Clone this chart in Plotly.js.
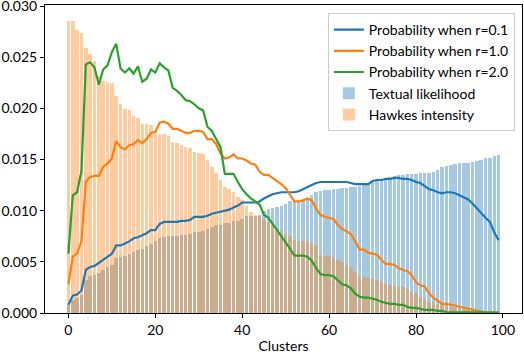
<!DOCTYPE html>
<html>
<head>
<meta charset="utf-8">
<script src="https://cdn.plot.ly/plotly-3.0.1.min.js"></script>
<style>html,body{margin:0;padding:0;background:#fff;}#chart{width:524px;height:354px;}</style>
</head>
<body>
<div id="chart"></div>
<script>
const clusters = Array.from({length: 100}, (_, i) => i);

const probR01 = [0.0008,0.0017,0.0018,0.0022,0.0042,0.0045,0.0046,0.0049,0.0052,0.0055,
0.0058,0.0066,0.0066,0.0068,0.0070,0.0073,0.0074,0.0076,0.0078,0.0081,
0.0081,0.0087,0.0089,0.0089,0.0089,0.0089,0.0090,0.0090,0.0091,0.0094,
0.0094,0.0094,0.0095,0.0097,0.0098,0.0099,0.0100,0.0101,0.0103,0.0105,
0.0108,0.0108,0.0108,0.0108,0.0109,0.0112,0.0114,0.0116,0.0117,0.0118,
0.0118,0.0118,0.0118,0.0119,0.0121,0.0123,0.0125,0.0127,0.0128,0.0128,
0.0128,0.0128,0.0128,0.0128,0.0128,0.0127,0.0126,0.0126,0.0126,0.0126,
0.0129,0.0130,0.0130,0.0131,0.0131,0.0132,0.0132,0.0131,0.0131,0.0130,
0.0128,0.0127,0.0124,0.0121,0.0120,0.0118,0.0117,0.0118,0.0118,0.0117,
0.0115,0.0113,0.0111,0.0107,0.0102,0.0097,0.0093,0.0089,0.0079,0.0071];

const probR10 = [0.0028,0.0055,0.0058,0.0070,0.0128,0.0133,0.0134,0.0134,0.0143,0.0146,
0.0151,0.0168,0.0162,0.0160,0.0164,0.0165,0.0169,0.0166,0.0170,0.0176,
0.0177,0.0186,0.0187,0.0185,0.0180,0.0180,0.0178,0.0176,0.0176,0.0178,
0.0178,0.0177,0.0170,0.0170,0.0165,0.0156,0.0151,0.0152,0.0155,0.0151,
0.0151,0.0149,0.0146,0.0145,0.0138,0.0135,0.0135,0.0132,0.0129,0.0126,
0.0122,0.0116,0.0109,0.0109,0.0110,0.0112,0.0110,0.0102,0.0096,0.0094,
0.0093,0.0092,0.0086,0.0082,0.0080,0.0077,0.0070,0.0062,0.0062,0.0059,
0.0058,0.0057,0.0052,0.0048,0.0048,0.0047,0.0044,0.0042,0.0041,0.0037,
0.0030,0.0027,0.0026,0.0019,0.0015,0.0012,0.0009,0.0009,0.0008,0.0007,
0.0006,0.0005,0.0004,0.0003,0.0002,0.00015,0.0001,0.0001,0.00005,0.00005];

const probR20 = [0.0058,0.0115,0.0118,0.0139,0.0243,0.0245,0.0240,0.0223,0.0238,0.0242,
0.0255,0.0263,0.0239,0.0235,0.0239,0.0234,0.0241,0.0226,0.0229,0.0238,
0.0235,0.0244,0.0240,0.0237,0.0220,0.0217,0.0213,0.0208,0.0207,0.0204,
0.0200,0.0198,0.0182,0.0178,0.0170,0.0162,0.0136,0.0136,0.0136,0.0128,
0.0121,0.0116,0.0112,0.0109,0.0106,0.0096,0.0093,0.0087,0.0081,0.0076,
0.0069,0.0063,0.0056,0.0056,0.0056,0.0055,0.0051,0.0044,0.0038,0.0037,
0.0037,0.0036,0.0032,0.0028,0.0027,0.0024,0.0019,0.0016,0.0015,0.0015,
0.0014,0.0013,0.0011,0.0010,0.0009,0.0009,0.0008,0.0008,0.0006,0.0005,
0.0005,0.0004,0.0003,0.0003,0.0003,0.0002,0.0002,0.0001,0.0001,0.0001,
0.0001,0.0001,0.00005,0.00005,0.00005,0.00005,0.00005,0.00005,0.00005,0.00005];

const textualLikelihood = [0.0008,0.0013,0.0015,0.0018,0.0032,0.0036,0.0037,0.0039,0.0042,0.0045,
0.0047,0.0054,0.0055,0.0056,0.0058,0.0060,0.0062,0.0063,0.0065,0.0067,
0.0070,0.0073,0.0074,0.0075,0.0075,0.0075,0.0076,0.0076,0.0077,0.0079,
0.0079,0.0080,0.0082,0.0084,0.0086,0.0086,0.0088,0.0088,0.0090,0.0090,
0.0092,0.0095,0.0095,0.0095,0.0096,0.0100,0.0102,0.0103,0.0104,0.0105,
0.0107,0.0109,0.0109,0.0109,0.0110,0.0110,0.0115,0.0118,0.0119,0.0120,
0.0120,0.0121,0.0121,0.0122,0.0122,0.0123,0.0123,0.0124,0.0125,0.0126,
0.0128,0.0129,0.0130,0.0131,0.0133,0.0134,0.0135,0.0135,0.0136,0.0136,
0.0136,0.0137,0.0137,0.0137,0.0138,0.0140,0.0143,0.0144,0.0145,0.0146,
0.0147,0.0147,0.0147,0.0148,0.0149,0.0150,0.0151,0.0151,0.0153,0.0154];

const hawkesIntensity = [0.0285,0.0285,0.0277,0.0274,0.0259,0.0253,0.0246,0.0232,0.0227,0.0226,
0.0225,0.0212,0.0204,0.0199,0.0198,0.0193,0.0191,0.0185,0.0185,0.0184,
0.0178,0.0175,0.0175,0.0173,0.0167,0.0166,0.0164,0.0162,0.0161,0.0157,
0.0156,0.0155,0.0150,0.0143,0.0137,0.0130,0.0123,0.0121,0.0118,0.0113,
0.0110,0.0105,0.0099,0.0096,0.0095,0.0091,0.0089,0.0086,0.0082,0.0080,
0.0077,0.0075,0.0071,0.0070,0.0070,0.0070,0.0068,0.0066,0.0057,0.0056,
0.0056,0.0055,0.0052,0.0050,0.0047,0.0045,0.0040,0.0036,0.0035,0.0034,
0.0034,0.0032,0.0031,0.0028,0.0027,0.0027,0.0025,0.0025,0.0023,0.0021,
0.0020,0.0016,0.0014,0.0011,0.0011,0.0009,0.0008,0.0008,0.0006,0.0005,
0.0005,0.0004,0.0003,0.0003,0.0002,0.0002,0.0001,0.0001,0.0001,0.00005];

const seriesNames = ['Probability when r=0.1','Probability when r=1.0','Probability when r=2.0','Textual likelihood','Hawkes intensity'];
const xTicks = [0,20,40,60,80,100];
const yTicks = [0,0.005,0.010,0.015,0.020,0.025,0.030];

const FONT = 'Lato, "Liberation Sans", Arial, sans-serif';
const FS = 14;

const traces = [
  {x: clusters, y: probR01, type: 'scatter', mode: 'lines', name: seriesNames[0], line: {color: '#1f77b4', width: 2.2}},
  {x: clusters, y: probR10, type: 'scatter', mode: 'lines', name: seriesNames[1], line: {color: '#ff7f0e', width: 2.2}},
  {x: clusters, y: probR20, type: 'scatter', mode: 'lines', name: seriesNames[2], line: {color: '#2ca02c', width: 2.2}},
  {x: clusters, y: textualLikelihood, type: 'bar', name: seriesNames[3], width: 0.8,
   marker: {color: 'rgba(31,119,180,0.4)', line: {width: 0}}},
  {x: clusters, y: hawkesIntensity, type: 'bar', name: seriesNames[4], width: 0.8,
   marker: {color: 'rgba(255,127,14,0.4)', line: {width: 0}}}
];

const layout = {
  width: 524, height: 354,
  margin: {l: 45, r: 2, t: 5, b: 41},
  paper_bgcolor: '#fff', plot_bgcolor: '#fff',
  barmode: 'overlay', bargap: 0,
  font: {family: FONT, size: FS, color: '#000'},
  showlegend: true,
  legend: {
    x: 0.985, y: 0.974, xanchor: 'right', yanchor: 'top',
    bgcolor: 'rgba(255,255,255,0.8)', bordercolor: '#cccccc', borderwidth: 1,
    font: {family: FONT, size: FS, color: '#000'},
    traceorder: 'normal', tracegroupgap: 0, itemwidth: 30
  },
  xaxis: {
    range: [-5.39, 104.39], tickvals: xTicks, ticktext: xTicks.map(String),
    showgrid: false, zeroline: false, showline: true, mirror: true,
    linecolor: '#000', linewidth: 1, ticks: 'outside', ticklen: 4, tickcolor: '#000',
    tickfont: {family: FONT, size: FS, color: '#000'},
    title: {text: 'Clusters', font: {family: FONT, size: FS, color: '#000'}, standoff: 4}
  },
  yaxis: {
    range: [0, 0.0301], tickvals: yTicks, ticktext: yTicks.map(v => v.toFixed(3)),
    showgrid: false, zeroline: false, showline: true, mirror: true,
    linecolor: '#000', linewidth: 1, ticks: 'outside', ticklen: 4, tickcolor: '#000',
    tickfont: {family: FONT, size: FS, color: '#000'},
    ticklabeloverflow: 'allow'
  }
};

Plotly.newPlot('chart', traces, layout, {displayModeBar: false, staticPlot: true});
</script>
</body>
</html>
